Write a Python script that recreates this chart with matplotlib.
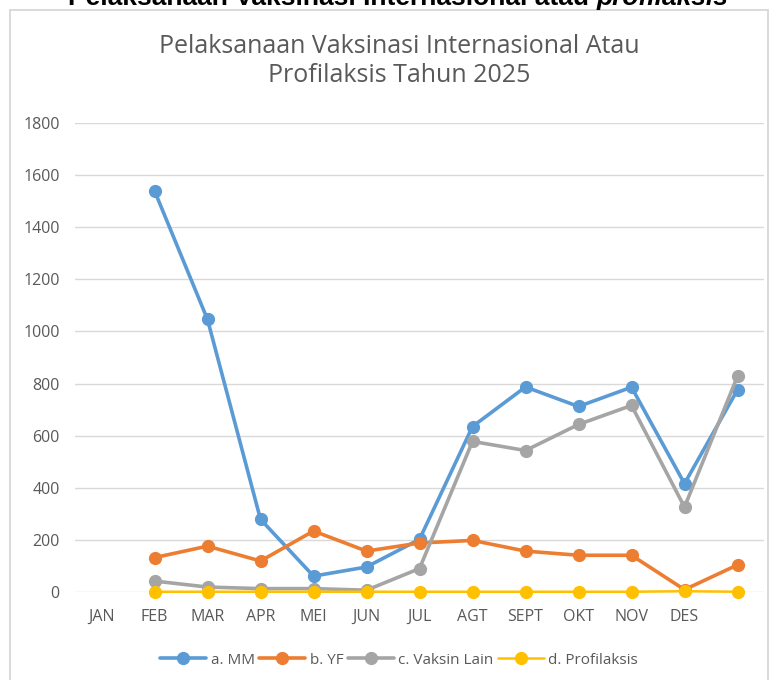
import matplotlib.pyplot as plt
from matplotlib.patches import Rectangle

plt.rcParams['font.family'] = ['Open Sans', 'DejaVu Sans']

bulan = ['JAN', 'FEB', 'MAR', 'APR', 'MEI', 'JUN', 'JUL', 'AGT', 'SEPT', 'OKT', 'NOV', 'DES', '']
mm = [1540, 1046, 279, 61, 96, 202, 635, 787, 712, 786, 416, 776]
yf = [132, 176, 119, 234, 157, 188, 198, 157, 141, 141, 9, 104]
vaksin_lain = [42, 19, 13, 13, 7, 90, 578, 543, 643, 716, 326, 828]
profilaksis = [1, 1, 1, 1, 1, 1, 1, 1, 1, 1, 3, 1]

series = [
    ('a. MM', mm, '#5B9BD5', 2.6),
    ('b. YF', yf, '#ED7D31', 2.6),
    ('c. Vaksin Lain', vaksin_lain, '#A5A5A5', 2.6),
    ('d. Profilaksis', profilaksis, '#FFC000', 1.8),
]

fig = plt.figure(figsize=(7.75, 6.8), dpi=100)

# chart border like excel
fig.patches.append(Rectangle((10 / 775, -0.05), 758 / 775, 1 - 10 / 680 + 0.05,
                             transform=fig.transFigure, fill=False,
                             edgecolor='#D9D9D9', linewidth=1.4))

# bold heading cut off at top of the screenshot
judul1 = fig.text(68 / 775, 1 - 5 / 680, 'Pelaksanaan Vaksinasi Internasional atau ',
                  ha='left', va='baseline', fontsize=19, fontweight='bold',
                  family='Liberation Sans', color='black')
fig.canvas.draw()
bb = judul1.get_window_extent()
fig.text(bb.x1 / 775, 1 - 5 / 680, 'profilaksis', ha='left', va='baseline',
         fontsize=19, fontweight='bold', style='italic',
         family='Liberation Sans', color='black')

fig.text(0.515, 1 - 61 / 680, 'Pelaksanaan Vaksinasi Internasional Atau\nProfilaksis Tahun 2025',
         ha='center', va='center', fontsize=18, color='#595959', linespacing=1.2)

ax = fig.add_axes([75 / 775, 88 / 680, 689 / 775, 469 / 680])
x = list(range(1, 13))
for nama, data, warna, lw in series:
    ax.plot(x, data, color=warna, linewidth=lw, marker='o', markersize=8.5,
            label=nama, solid_capstyle='round', clip_on=False)

ax.set_xlim(-0.5, 12.5)
ax.set_ylim(0, 1800)
ax.set_yticks(range(0, 1801, 200))
ax.set_xticks(range(13))
ax.set_xticklabels(bulan)
ax.grid(axis='y', color='#D9D9D9', linewidth=1)
ax.set_axisbelow(True)
for s in ax.spines.values():
    s.set_visible(False)
ax.tick_params(length=0, colors='#595959', labelsize=11.5)
ax.tick_params(axis='y', pad=11)
ax.tick_params(axis='x', pad=12)

fig.legend(loc='center', bbox_to_anchor=(0.515, 1 - 660 / 680), ncol=4,
           frameon=False, fontsize=11, labelcolor='#595959',
           handlelength=3.0, handletextpad=0.3, columnspacing=0.3)

fig.savefig('out.png', dpi=100)
